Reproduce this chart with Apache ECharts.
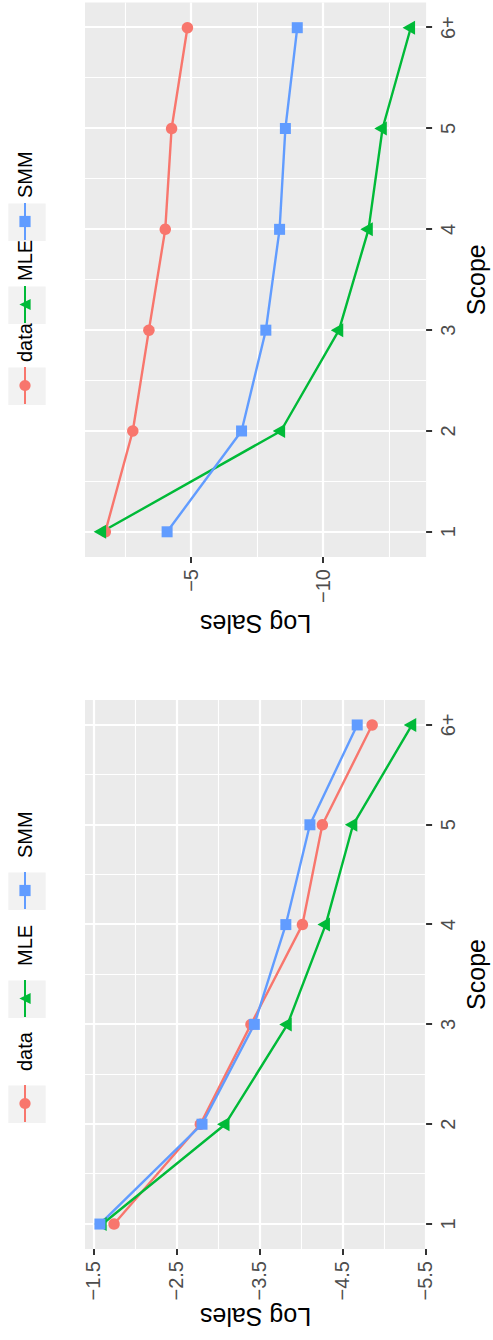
<!DOCTYPE html>
<html>
<head>
<meta charset="utf-8">
<script src="https://cdn.jsdelivr.net/npm/echarts@6/dist/echarts.min.js"></script>
<style>
html,body{margin:0;padding:0;background:#fff;overflow:hidden;width:493px;height:1340px;}
#chart{position:absolute;left:0;top:0;width:1340px;height:493px;transform-origin:0 0;transform:translate(0,1340px) rotate(-90deg);}
</style>
</head>
<body>
<div id="chart"></div>
<script>
// ---- data ----
const scopeValues = [1, 2, 3, 4, 5, 6];
const scopeLabels = ['1', '2', '3', '4', '5', '6+'];
const seriesNames = ['data', 'MLE', 'SMM'];
const dataLog  = [-1.75, -2.79, -3.40, -4.02, -4.26, -4.86];
const mleLeft  = [-1.61, -3.09, -3.84, -4.30, -4.63, -5.34];
const smmLeft  = [-1.58, -2.81, -3.44, -3.82, -4.11, -4.68];
const mleRight = [-1.62, -8.40, -10.60, -11.72, -12.25, -13.32];
const smmRight = [-4.09, -6.91, -7.83, -8.35, -8.57, -9.02];
const leftMajorTicks  = [-5.5, -4.5, -3.5, -2.5, -1.5];
const leftMinorTicks  = [-5, -4, -3, -2];
const rightMajorTicks = [-10, -5];
const rightMinorTicks = [-12.5, -7.5, -2.5];
const scopeMinorTicks = [1.5, 2.5, 3.5, 4.5, 5.5];

// ---- style ----
const FONT = "'Liberation Sans', Arial, Helvetica, sans-serif";
const COLORS = {data: '#F8766D', MLE: '#00BA38', SMM: '#619CFF'};
const SYMBOLS = {
  data: {symbol: 'circle', symbolSize: 11.5, symbolOffset: [0, 0]},
  MLE:  {symbol: 'triangle', symbolSize: [14, 12.5], symbolOffset: [0, -2]},
  SMM:  {symbol: 'rect', symbolSize: 11, symbolOffset: [0, 0]}
};
const minus = s => String(s).replace('-', '\u2212');

const chart = echarts.init(document.getElementById('chart'), null, {renderer: 'svg', width: 1340, height: 493});

const grids = [
  {left: 91, top: 85, width: 549, height: 346, show: true, backgroundColor: '#EBEBEB', borderWidth: 0},
  {left: 783, top: 85, width: 554.5, height: 346, show: true, backgroundColor: '#EBEBEB', borderWidth: 0}
];

function scopeAxis(gridIndex, major) {
  const ax = {
    type: 'value', gridIndex, min: 0.75, max: 6.25,
    position: major ? 'bottom' : 'top',
    axisLine: {show: false},
    axisTick: {show: major, customValues: major ? scopeValues : scopeMinorTicks, length: 6, lineStyle: {color: '#333333', width: 2}},
    axisLabel: {show: major, customValues: scopeValues, margin: 12, fontSize: 20, color: '#4D4D4D', fontFamily: FONT,
      formatter: v => scopeLabels[scopeValues.indexOf(Math.round(v))]},
    splitLine: {show: true, lineStyle: {color: '#FFFFFF', width: major ? 2.2 : 1.1}}
  };
  if (major) {
    ax.name = 'Scope'; ax.nameLocation = 'middle'; ax.nameGap = 35;
    ax.nameTextStyle = {fontSize: 25, color: '#000000', fontFamily: FONT};
  }
  return ax;
}
function valueAxis(gridIndex, min, max, ticks, major) {
  const ax = {
    type: 'value', gridIndex, min, max,
    position: major ? 'left' : 'right',
    axisLine: {show: false},
    axisTick: {show: major, customValues: ticks, length: 6, lineStyle: {color: '#333333', width: 2}},
    axisLabel: {show: major, customValues: ticks, margin: 12, fontSize: 20, color: '#4D4D4D', fontFamily: FONT,
      formatter: v => minus(Number.isInteger(v) ? String(v) : v.toFixed(1))},
    splitLine: {show: true, lineStyle: {color: '#FFFFFF', width: major ? 2.2 : 1.1}}
  };
  if (major) {
    ax.name = 'Log Sales'; ax.nameLocation = 'middle'; ax.nameRotate = 90; ax.nameGap = 54;
    ax.nameTextStyle = {fontSize: 25, color: '#000000', fontFamily: FONT};
  }
  return ax;
}

const xAxes = [scopeAxis(0, true), scopeAxis(0, false), scopeAxis(1, true), scopeAxis(1, false)];
const yAxes = [
  valueAxis(0, -5.51, -1.40, leftMajorTicks, true),
  valueAxis(0, -5.51, -1.40, leftMinorTicks, false),
  valueAxis(1, -13.9, -0.98, rightMajorTicks, true),
  valueAxis(1, -13.9, -0.98, rightMinorTicks, false)
];

function makeSeries(name, values, axisIndex) {
  const c = COLORS[name];
  return Object.assign({
    name, type: 'line', xAxisIndex: axisIndex, yAxisIndex: axisIndex,
    data: scopeValues.map((s, i) => [s, values[i]]),
    showSymbol: true,
    lineStyle: {color: c, width: 2.4},
    itemStyle: {color: c},
    emphasis: {disabled: true},
    animation: false
  }, SYMBOLS[name]);
}

const series = [
  makeSeries('data', dataLog, 0), makeSeries('MLE', mleLeft, 0), makeSeries('SMM', smmLeft, 0),
  makeSeries('data', dataLog, 2), makeSeries('MLE', mleRight, 2), makeSeries('SMM', smmRight, 2)
];

// legend key positions (layout only)
const keyLeftPos  = [217, 322, 430];
const keyRightPos = [935, 1016, 1099];
const legends = [];
const graphics = [];
function addLegend(positions, textPad) {
  seriesNames.forEach((n, i) => {
    legends.push({
      data: [n], left: positions[i], top: 15, orient: 'horizontal', padding: 0,
      itemWidth: 37, itemHeight: 14, selectedMode: false,
      textStyle: {fontSize: 20, color: '#000000', fontFamily: FONT, padding: [0, 0, 0, textPad]}
    });
    graphics.push({type: 'rect', shape: {x: positions[i], y: 8.3, width: 37.4, height: 37.4}, style: {fill: '#F2F2F2'}, z: -10, silent: true});
  });
}
addLegend(keyLeftPos, 9);
addLegend(keyRightPos, 0);

chart.setOption({
  animation: false,
  backgroundColor: '#FFFFFF',
  grid: grids,
  xAxis: xAxes,
  yAxis: yAxes,
  legend: legends,
  graphic: graphics,
  series
});
</script>
</body>
</html>
